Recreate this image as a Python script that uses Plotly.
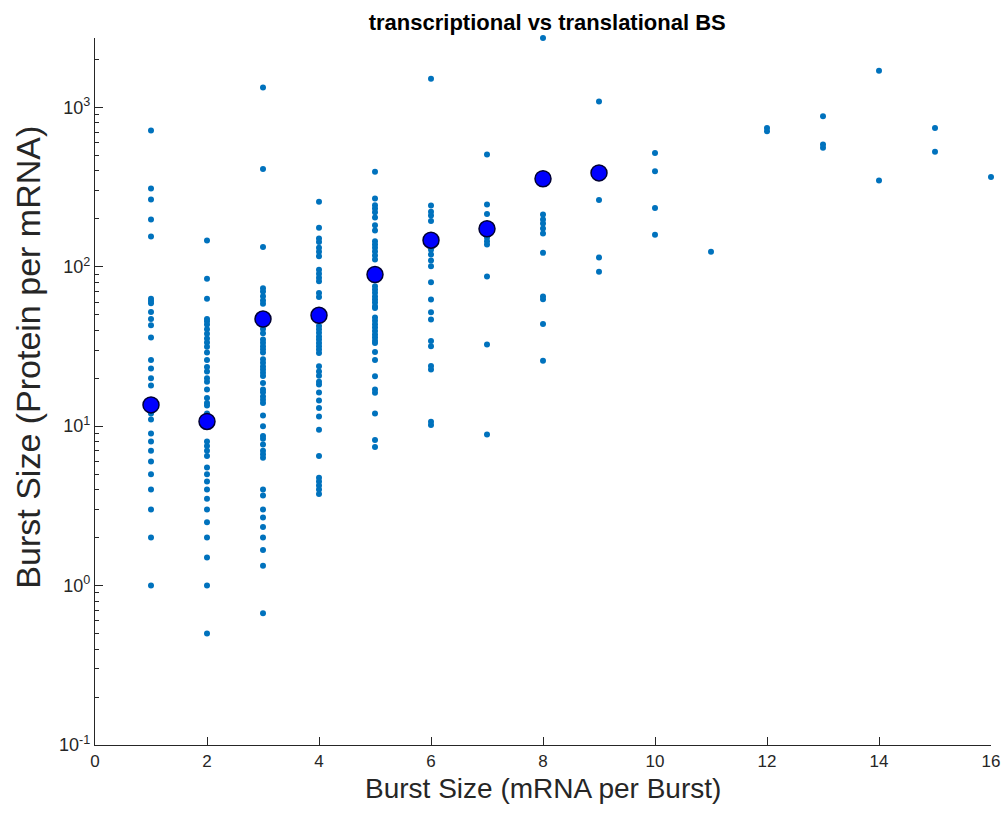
import plotly.graph_objects as go

# Translational burst size (protein per mRNA) grouped by transcriptional burst size (mRNA per burst)
bs1 = [715, 310, 264, 198, 155, 63, 61, 59, 52, 47, 43, 36, 26, 23, 20, 18, 12, 11, 9, 8, 7, 6, 5, 4, 3, 2, 1]
bs2 = [146, 84, 63, 47, 45.5, 43.5, 40.5, 38, 35.5, 33.5, 31.5, 29, 26, 23.5, 22, 20, 19, 17, 15, 14,
       13.5, 12, 11, 8, 7.5, 7, 6.5, 5.5, 5, 4.5, 4, 3.5, 3, 2.5, 2, 1.5, 1, 0.5]
bs3 = [1331, 410, 133, 73.33, 70, 65.33, 61.33, 58.67, 44, 40.67, 38.33, 35, 33.33, 31.67, 30.33, 29,
       26.33, 25, 23.67, 22.67, 21.67, 20.67, 18.67, 17, 16.33, 15.33, 14.67, 14, 11.67, 10, 8.67, 8.33,
       7.67, 7, 6.67, 6.33, 4, 3.67, 3, 2.67, 2.33, 2, 1.67, 1.33, 0.67]
bs4 = [255.5, 175.5, 150.25, 143.25, 131.5, 124, 116.5, 95.75, 90.5, 85.25, 81, 68.5, 64.5, 42.5, 40.5,
       38.5, 36.5, 35, 33.25, 31.75, 30.25, 28.75, 23.75, 22, 20.75, 19, 18.25, 16.25, 14.5, 13, 11.5,
       9.5, 6.5, 4.75, 4.5, 4.25, 4, 3.75]
bs5 = [394, 268, 243, 232, 220, 204, 182, 169, 144.6, 138, 131.4, 124.6, 117.6, 111, 75.4, 72, 68.6, 65,
       62.4, 59.6, 56.6, 55.2, 48, 45.8, 43.6, 41.6, 39.6, 37.6, 36, 34.4, 33.2, 29.2, 26, 20.6, 17, 16.2,
       12, 8.2, 7.4]
bs6 = [1510, 242, 221, 210, 193.33, 128, 119.33, 109.33, 100.67, 80, 62.33, 51.83, 46.67, 34.17, 31.67,
       23.83, 22.67, 10.67, 10.17]
bs7 = [506, 246, 214.29, 152.57, 144.57, 137.86, 86.86, 32.57, 8.86]
bs8 = [2722, 212.5, 197.75, 186.75, 173.75, 161.5, 122.25, 65, 62.5, 43.75, 25.75]
bs9 = [1087, 262, 114.22, 92.89]
bs10 = [518, 397, 234, 159]
bs11 = [124]
bs12 = [743, 708]
bs13 = [880, 584, 557]
bs14 = [1694, 347.6]
bs15 = [743, 526]
bs16 = [366]

groups = [bs1, bs2, bs3, bs4, bs5, bs6, bs7, bs8, bs9, bs10, bs11, bs12, bs13, bs14, bs15, bs16]

# Averages per transcriptional burst size
mean_x = [1, 2, 3, 4, 5, 6, 7, 8, 9]
mean_y = [13.6, 10.7, 47.0, 49.6, 89.4, 146.7, 173, 356.5, 388]

x_ticks = [0, 2, 4, 6, 8, 10, 12, 14, 16]
y_tickvals = [0.1, 1, 10, 100, 1000]
y_ticktext = ["10<sup>-1</sup>", "10<sup>0</sup>", "10<sup>1</sup>", "10<sup>2</sup>", "10<sup>3</sup>"]

xs, ys = [], []
for k, vals in enumerate(groups, start=1):
    xs.extend([k] * len(vals))
    ys.extend(vals)

font_family = "Liberation Sans, Arial, sans-serif"
axis_color = "#262626"

fig = go.Figure()
fig.add_trace(go.Scatter(
    x=xs, y=ys, mode="markers",
    marker=dict(color="#0072BD", size=6, line=dict(width=0)),
    cliponaxis=False, showlegend=False,
))
fig.add_trace(go.Scatter(
    x=mean_x, y=mean_y, mode="markers",
    marker=dict(color="#0000FF", size=16, line=dict(color="#000033", width=1.5)),
    cliponaxis=False, showlegend=False,
))

fig.update_layout(
    width=1005, height=818,
    margin=dict(l=95, r=14, t=38, b=73),
    paper_bgcolor="white", plot_bgcolor="white",
    font=dict(family=font_family, color=axis_color),
    title=dict(
        text="<b>transcriptional vs translational BS</b>",
        x=0.5445, xanchor="center", y=0.973, yanchor="middle",
        font=dict(size=22, color="black", family=font_family),
    ),
    annotations=[
        dict(text="Burst Size (mRNA per Burst)", xref="paper", yref="paper",
             x=0.5, y=-0.062, xanchor="center", yanchor="middle", showarrow=False,
             font=dict(size=28, color=axis_color, family=font_family)),
        dict(text="Burst Size (Protein per mRNA)", xref="paper", yref="paper",
             x=-0.075, y=0.549, xanchor="center", yanchor="middle", showarrow=False,
             textangle=-90, font=dict(size=34, color=axis_color, family=font_family)),
    ],
)

fig.update_xaxes(
    range=[0, 16], tickvals=x_ticks, ticktext=[str(v) for v in x_ticks],
    ticks="inside", ticklen=8, tickwidth=1, tickcolor=axis_color,
    showline=True, linecolor=axis_color, linewidth=1.2, mirror=False,
    showgrid=False, zeroline=False, automargin=False,
    tickfont=dict(size=17, color=axis_color),
)
fig.update_yaxes(
    type="log", range=[-1, 3.435],
    tickvals=y_tickvals, ticktext=y_ticktext,
    ticks="inside", ticklen=8, tickwidth=1, tickcolor=axis_color,
    minor=dict(ticks="inside", ticklen=4, tickcolor=axis_color, dtick="D1", showgrid=False),
    showline=True, linecolor=axis_color, linewidth=1.2, mirror=False,
    showgrid=False, zeroline=False, automargin=False,
    tickfont=dict(size=18, color=axis_color),
)

fig.write_html("out.html")
